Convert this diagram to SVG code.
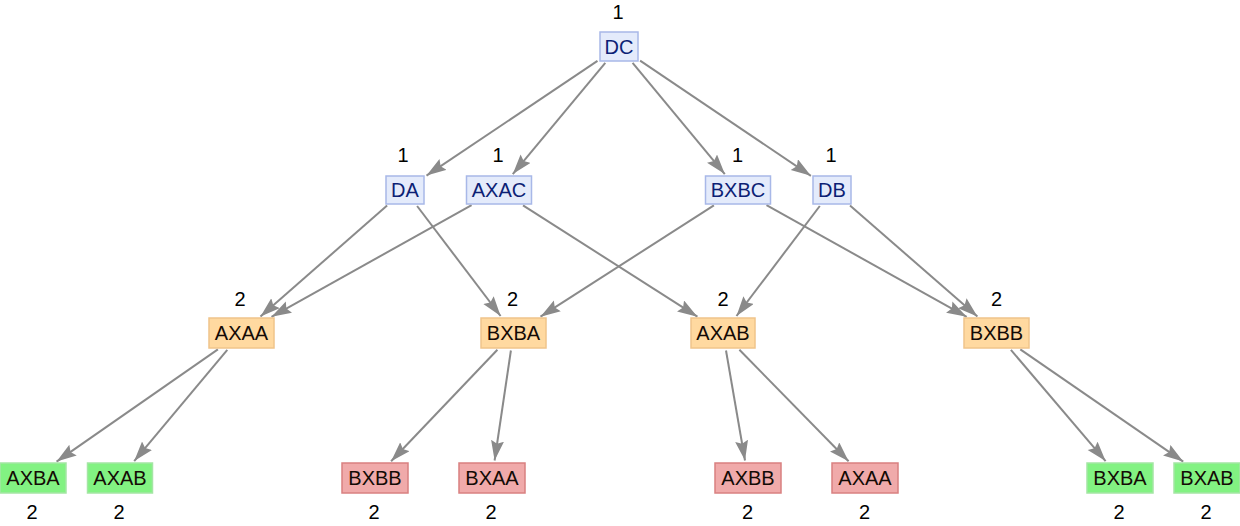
<svg xmlns="http://www.w3.org/2000/svg" width="1240" height="526" viewBox="0 0 1240 526">
<style>
text{font-family:"Liberation Sans",Arial,Helvetica,sans-serif;font-size:20px;text-anchor:middle}
.blue rect{fill:#e4ebfb;stroke:#a8b8e8;stroke-width:1.5}
.blue text{fill:#0d1f75}
.orange rect{fill:#ffd9a0;stroke:#f0c48a;stroke-width:1.5}
.green rect{fill:#82f282;stroke:#a4e6a4;stroke-width:1.5}
.red rect{fill:#f0aaaa;stroke:#d98080;stroke-width:1.5}
.orange text,.green text,.red text{fill:#140a05}
g text.num{fill:#000}
#edges line{stroke:#8a8a8a;stroke-width:2;marker-end:url(#arr)}
</style>
<defs>
<marker id="arr" markerUnits="userSpaceOnUse" markerWidth="21" markerHeight="14" refX="20" refY="6.5" orient="auto" viewBox="0 0 21 14">
<path d="M0,0 L20,6.5 L0,13 L3,6.5 z" fill="#8a8a8a"/>
</marker>
</defs>
<rect width="1240" height="526" fill="#fff"/>
<g id="edges">
<line x1="597.5" y1="60.9" x2="426.5" y2="175.6"/>
<line x1="605.3" y1="62.9" x2="512.8" y2="174.1"/>
<line x1="632.6" y1="62.9" x2="724.8" y2="174.1"/>
<line x1="640.1" y1="60.7" x2="810.9" y2="175.8"/>
<line x1="387.1" y1="205.6" x2="260.5" y2="316.4"/>
<line x1="417.1" y1="206" x2="500.6" y2="316"/>
<line x1="471.6" y1="205.2" x2="271.5" y2="316.8"/>
<line x1="523" y1="205.3" x2="697.4" y2="316.7"/>
<line x1="713.9" y1="205.3" x2="540.5" y2="316.7"/>
<line x1="766.5" y1="205.2" x2="966.7" y2="316.8"/>
<line x1="819.8" y1="206" x2="736.5" y2="316"/>
<line x1="850" y1="205.6" x2="977.4" y2="316.4"/>
<line x1="217.9" y1="349.4" x2="56.6" y2="461.6"/>
<line x1="227.3" y1="349.9" x2="134.2" y2="461.1"/>
<line x1="497.4" y1="349.8" x2="391.1" y2="461.2"/>
<line x1="510.9" y1="350.5" x2="494.6" y2="460.5"/>
<line x1="726" y1="350.5" x2="745" y2="460.5"/>
<line x1="739.4" y1="349.8" x2="848.6" y2="461.2"/>
<line x1="1010.9" y1="349.9" x2="1105.6" y2="461.1"/>
<line x1="1020.3" y1="349.4" x2="1183.2" y2="461.6"/>
</g>
<g id="n-DC" class="blue"><rect x="600" y="32" width="38" height="29"/><text x="619" y="53.5">DC</text><text class="num" x="618" y="19">1</text></g>
<g id="n-DA" class="blue"><rect x="386" y="176" width="38" height="28"/><text x="405" y="197">DA</text><text class="num" x="403" y="162">1</text></g>
<g id="n-AXAC" class="blue"><rect x="466.5" y="176" width="65" height="28"/><text x="499" y="197">AXAC</text><text class="num" x="498" y="162">1</text></g>
<g id="n-BXBC" class="blue"><rect x="705.5" y="176" width="65" height="28"/><text x="738" y="197">BXBC</text><text class="num" x="737.5" y="162">1</text></g>
<g id="n-DB" class="blue"><rect x="813" y="176" width="38" height="28"/><text x="832" y="197">DB</text><text class="num" x="831" y="162">1</text></g>
<g id="n-AXAA" class="orange"><rect x="209" y="318" width="65" height="30"/><text x="241.5" y="340">AXAA</text><text class="num" x="240" y="306">2</text></g>
<g id="n-BXBA" class="orange"><rect x="481" y="318" width="65" height="30"/><text x="513.5" y="340">BXBA</text><text class="num" x="512.5" y="306">2</text></g>
<g id="n-AXAB" class="orange"><rect x="691" y="318" width="64" height="30"/><text x="723" y="340">AXAB</text><text class="num" x="723" y="306">2</text></g>
<g id="n-BXBB" class="orange"><rect x="964" y="318" width="65" height="30"/><text x="996.5" y="340">BXBB</text><text class="num" x="996.5" y="306">2</text></g>
<g id="n-AXBA2" class="green"><rect x="0" y="463" width="66" height="30"/><text x="33" y="485">AXBA</text><text class="num" x="32" y="519">2</text></g>
<g id="n-AXAB2" class="green"><rect x="87.5" y="463" width="65" height="30"/><text x="120" y="485">AXAB</text><text class="num" x="119" y="519">2</text></g>
<g id="n-BXBB2" class="red"><rect x="342" y="463" width="66" height="30"/><text x="375" y="485">BXBB</text><text class="num" x="374" y="519">2</text></g>
<g id="n-BXAA2" class="red"><rect x="459" y="463" width="66" height="30"/><text x="492" y="485">BXAA</text><text class="num" x="491" y="519">2</text></g>
<g id="n-AXBB2" class="red"><rect x="715" y="463" width="66" height="30"/><text x="748" y="485">AXBB</text><text class="num" x="747.5" y="519">2</text></g>
<g id="n-AXAA2" class="red"><rect x="832" y="463" width="66" height="30"/><text x="865" y="485">AXAA</text><text class="num" x="864.5" y="519">2</text></g>
<g id="n-BXBA2" class="green"><rect x="1087" y="463" width="66" height="30"/><text x="1120" y="485">BXBA</text><text class="num" x="1119" y="519">2</text></g>
<g id="n-BXAB2" class="green"><rect x="1174" y="463" width="66" height="30"/><text x="1207" y="485">BXAB</text><text class="num" x="1206" y="519">2</text></g>
</svg>
